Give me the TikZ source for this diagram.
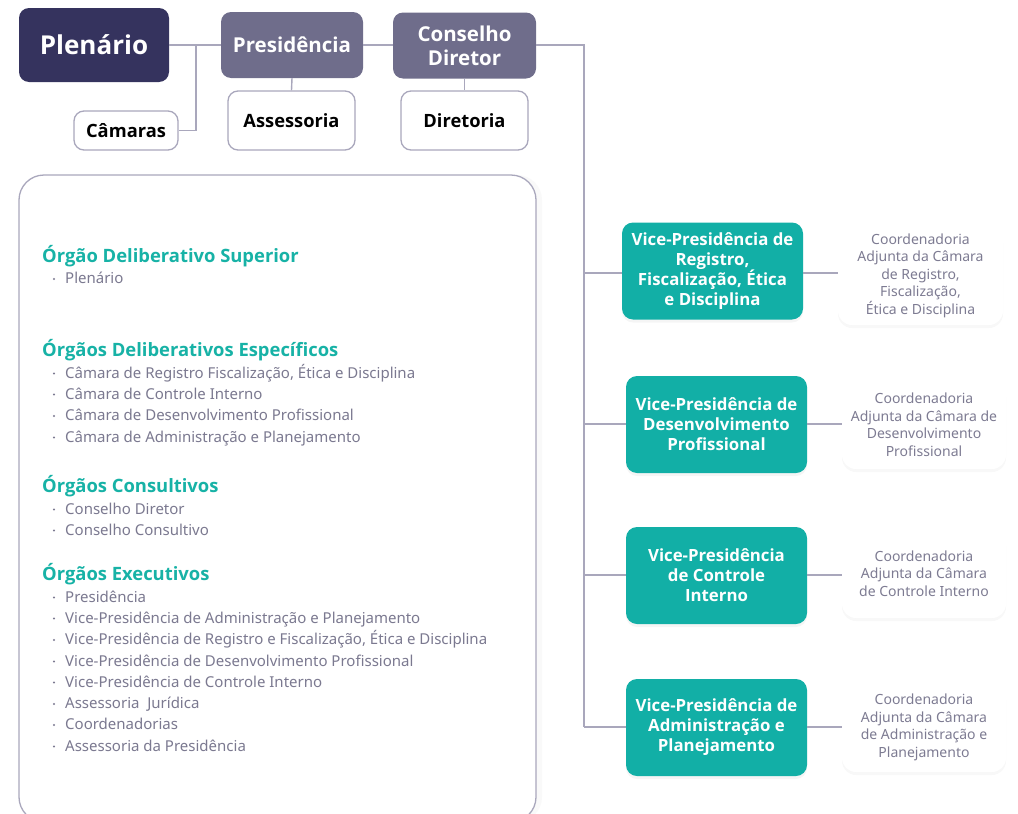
\documentclass[tikz,border=0pt]{standalone}
\usepackage{fontspec}
\setmainfont{Noto Sans}
\newfontfamily\bfont{Open Sans}
\usetikzlibrary{shadows}
\definecolor{navy}{HTML}{35335E}
\definecolor{mauve}{HTML}{6F6D8B}
\definecolor{tealbox}{HTML}{12AFA6}
\definecolor{linec}{HTML}{A9A7BC}
\definecolor{txtgray}{HTML}{7B7990}
\definecolor{headteal}{HTML}{17B2A6}
\definecolor{coordtxt}{HTML}{7D7B92}
\tikzset{
  conn/.style={draw=linec, line width=1.4pt},
  topbox/.style={rounded corners=10pt, inner sep=0pt, align=center, text=white, font=\bfont\bfseries\fontsize{20.5}{24}\selectfont},
  subbox/.style={rounded corners=10pt, draw=linec, line width=1.3pt, fill=white, inner sep=0pt, align=center, font=\bfont\bfseries\fontsize{18.3}{22}\selectfont},
  vpbox/.style={rounded corners=11pt, fill=tealbox, inner sep=0pt, minimum width=181pt, minimum height=97pt, align=center, text=white, font=\bfont\bfseries\fontsize{16.8}{20}\selectfont, drop shadow={opacity=0.08, shadow xshift=0pt, shadow yshift=-3pt}},
  coordbox/.style={rounded corners=14pt, fill=white, inner sep=0pt, minimum width=165pt, minimum height=92pt, align=center, text=coordtxt, font=\fontsize{14}{17.5}\selectfont, drop shadow={opacity=0.06, shadow xshift=0pt, shadow yshift=-3pt}},
  heading/.style={anchor=mid west, inner sep=0pt, text=headteal, font=\bfont\bfseries\fontsize{18.4}{20}\selectfont},
  itemtxt/.style={anchor=mid west, inner sep=0pt, text=txtgray, font=\fontsize{15}{18}\selectfont},
}
\newcommand\listitem[3]{\node[itemtxt] (#1) at (65,#2+3) {#3};\fill[txtgray] (54,#2+1) circle (1.2pt);}
\begin{document}
\begin{tikzpicture}[x=1pt,y=-1pt]
\useasboundingbox (0,0) rectangle (1018,814);
% panel
\draw[linec, line width=1.3pt, fill=white, rounded corners=25pt, drop shadow={opacity=0.05, shadow xshift=6pt, shadow yshift=0pt}] (19,175) rectangle (536,822);
% top boxes
\node[topbox, fill=navy, minimum width=150pt, minimum height=74pt, font=\bfont\bfseries\fontsize{26}{30}\selectfont] (plen) at (94,45) {Plenário};
\node[topbox, fill=mauve, minimum width=142pt, minimum height=66pt] (pres) at (292,45) {Presidência};
\node[topbox, fill=mauve, minimum width=143pt, minimum height=66pt] (cons) at (464.5,45.5) {Conselho\\Diretor};
\node[subbox, minimum width=104pt, minimum height=39pt] (cam) at (126,130.5) {Câmaras};
\node[subbox, minimum width=127pt, minimum height=59pt] (asse) at (291.5,120.5) {Assessoria};
\node[subbox, minimum width=127pt, minimum height=59pt] (dire) at (464.5,120.5) {Diretoria};
\coordinate (j1) at (196,45);
\coordinate (trunk) at (584,45);
\draw[conn] (plen.east) -- (pres.west);
\draw[conn] (j1) |- (cam.east);
\draw[conn] (pres.south) -- (asse.north);
\draw[conn] (pres.east) -- (cons.west |- pres.east);
\draw[conn] (cons.south) -- (dire.north);
% VP boxes
\node[vpbox] (vp1) at (712.5,271) {Vice-Presidência de\\Registro,\\Fiscalização, Ética\\e Disciplina};
\node[vpbox] (vp2) at (716.5,424.5) {Vice-Presidência de\\Desenvolvimento\\Profissional};
\node[vpbox] (vp3) at (716.5,575.5) {Vice-Presidência\\de Controle\\Interno};
\node[vpbox] (vp4) at (716.5,727.5) {Vice-Presidência de\\Administração e\\Planejamento};
\node[coordbox, minimum height=99pt] (c1) at (920.5,275.5) {Coordenadoria\\Adjunta da Câmara\\de Registro,\\Fiscalização,\\Ética e Disciplina};
\node[coordbox, minimum width=164pt, minimum height=89pt] (c2) at (924,424.5) {Coordenadoria\\Adjunta da Câmara de\\Desenvolvimento\\Profissional};
\node[coordbox, minimum width=164pt, minimum height=89pt] (c3) at (924,573.5) {Coordenadoria\\Adjunta da Câmara\\de Controle Interno};
\node[coordbox, minimum width=164pt, minimum height=89pt] (c4) at (924,727.5) {Coordenadoria\\Adjunta da Câmara\\de Administração e\\Planejamento};
\coordinate (b1) at (584,273);
\coordinate (b2) at (584,424);
\coordinate (b3) at (584,575);
\coordinate (b4) at (584,727);
\draw[conn] (cons.east |- trunk) -- (trunk) -- (b4);
\draw[conn] (b1) -- (vp1.west |- b1);
\draw[conn] (b2) -- (vp2.west |- b2);
\draw[conn] (b3) -- (vp3.west |- b3);
\draw[conn] (b4) -- (vp4.west |- b4);
\draw[conn] (vp1.east |- b1) -- (c1.west |- b1);
\draw[conn] (vp2.east |- b2) -- (c2.west |- b2);
\draw[conn] (vp3.east |- b3) -- (c3.west |- b3);
\draw[conn] (vp4.east |- b4) -- (c4.west |- b4);
% list
\node[heading] (h1) at (42,259.5) {Órgão Deliberativo Superior};
\listitem{a1}{278}{Plenário}
\node[heading] (h2) at (42,353.5) {Órgãos Deliberativos Específicos};
\listitem{b1i}{372.5}{Câmara de Registro Fiscalização, Ética e Disciplina}
\listitem{b2i}{393.5}{Câmara de Controle Interno}
\listitem{b3i}{415}{Câmara de Desenvolvimento Profissional}
\listitem{b4i}{436.5}{Câmara de Administração e Planejamento}
\node[heading] (h3) at (42,489.5) {Órgãos Consultivos};
\listitem{c1i}{508.5}{Conselho Diretor}
\listitem{c2i}{529.5}{Conselho Consultivo}
\node[heading] (h4) at (42,577.5) {Órgãos Executivos};
\listitem{d1}{596.5}{Presidência}
\listitem{d2}{617.5}{Vice-Presidência de Administração e Planejamento}
\listitem{d3}{639}{Vice-Presidência de Registro e Fiscalização, Ética e Disciplina}
\listitem{d4}{660.5}{Vice-Presidência de Desenvolvimento Profissional}
\listitem{d5}{681.5}{Vice-Presidência de Controle Interno}
\listitem{d6}{703}{Assessoria\ \ Jurídica}
\listitem{d7}{724}{Coordenadorias}
\listitem{d8}{745.5}{Assessoria da Presidência}
\end{tikzpicture}
\end{document}
